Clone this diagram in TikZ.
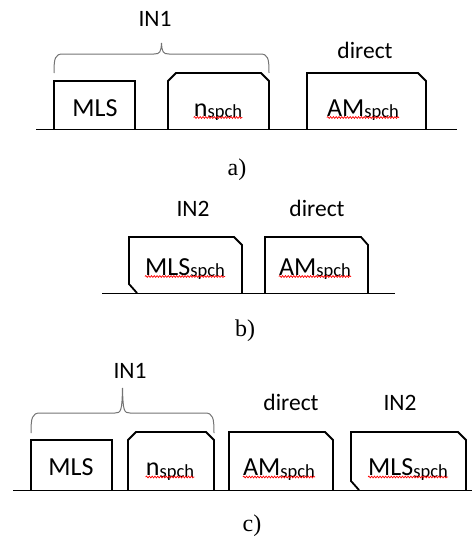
\documentclass[tikz,border=0pt]{standalone}
\usepackage{fontspec}
\setmainfont{Carlito}
\newfontfamily\labfont{Liberation Serif}
\usetikzlibrary{decorations.pathmorphing}
\newcommand{\spch}{\raisebox{-1.5pt}{\fontsize{18.5}{18.5}\selectfont spch}}
\tikzset{
  blk/.style={line width=1.8pt, line join=miter},
  base line/.style={line width=1pt},
  brc/.style={line width=1pt, draw=black!55},
  txt/.style={anchor=base, inner sep=0pt, font=\fontsize{26}{26}\selectfont},
  hdr/.style={anchor=base, inner sep=0pt, font=\fontsize{23.5}{23.5}\selectfont},
  lab/.style={anchor=base, inner sep=0pt, font=\labfont\fontsize{24}{24}\selectfont},
  wavy/.style={draw=red, line width=0.7pt, decorate, decoration={snake, amplitude=0.9pt, segment length=2.8pt}}
}
\begin{document}
\begin{tikzpicture}[x=1pt,y=-1pt]
\useasboundingbox (0,0) rectangle (472,538);
% ---------- panel a ----------
\draw[base line] (36,129) -- (457,129);
\draw[blk] (54,129) -- (54,81) -- (135,81) -- (135,129);
\draw[blk] (168,129) -- (168,81) -- (176,73) -- (261,73) -- (269,81) -- (269,129);
\draw[blk] (307,129) -- (307,73) -- (418,73) -- (426,81) -- (426,129);
\draw[brc] (54,73) .. controls (54,58) and (55,54) .. (63,54) -- (154,54)
  .. controls (160,54) and (161,52) .. (161.5,43)
  .. controls (162,52) and (163,54) .. (169,54) -- (260,54)
  .. controls (268,54) and (269,58) .. (269,73);
\node[hdr] (a-in1) at (155,27) {IN1};
\node[hdr] (a-dir) at (365,58) {direct};
\node[txt] (a-mls) at (95,116) {MLS};
\node[txt] (a-n) at (218,116) {n\spch};
\node[txt] (a-am) at (363,116) {AM\spch};
\draw[wavy] ([yshift=-1.5pt]a-n.base west) -- ([yshift=-1.5pt]a-n.base east);
\draw[wavy] ([yshift=-1.5pt]a-am.base west) -- ([yshift=-1.5pt]a-am.base east);
\node[lab] (a-lab) at (237,175) {a)};
% ---------- panel b ----------
\draw[base line] (102,293) -- (395,293);
\draw[blk] (137,293) -- (129,284) -- (129,237) -- (234,237) -- (242,245) -- (242,293);
\draw[blk] (265,293) -- (265,237) -- (361,237) -- (368,245) -- (368,293);
\node[hdr] (b-in2) at (193,216) {IN2};
\node[hdr] (b-dir) at (317,216) {direct};
\node[txt] (b-mls) at (185,275) {MLS\spch};
\node[txt] (b-am) at (315,275) {AM\spch};
\draw[wavy] ([yshift=-1.5pt]b-mls.base west) -- ([yshift=-1.5pt]b-mls.base east);
\draw[wavy] ([yshift=-1.5pt]b-am.base west) -- ([yshift=-1.5pt]b-am.base east);
\node[lab] (b-lab) at (245,336) {b)};
% ---------- panel c ----------
\draw[base line] (13,490) -- (472,490);
\draw[blk] (31,490) -- (31,440) -- (112,440) -- (112,490);
\draw[blk] (128,490) -- (128,440) -- (136,432) -- (206,432) -- (214,440) -- (214,490);
\draw[blk] (229,490) -- (229,432) -- (325,432) -- (333,440) -- (333,490);
\draw[blk] (359,490) -- (351,481) -- (351,432) -- (458,432) -- (466,440) -- (466,490);
\draw[brc] (31,433) .. controls (31,418) and (32,413) .. (40,413) -- (115,413)
  .. controls (121,413) and (122,411) .. (122.5,388)
  .. controls (123,411) and (124,413) .. (130,413) -- (205,413)
  .. controls (213,413) and (214,418) .. (214,433);
\node[hdr] (c-in1) at (130,378) {IN1};
\node[hdr] (c-dir) at (291,410) {direct};
\node[hdr] (c-in2) at (400,410) {IN2};
\node[txt] (c-mls) at (71,475.5) {MLS};
\node[txt] (c-n) at (170,475.5) {n\spch};
\node[txt] (c-am) at (279,475.5) {AM\spch};
\node[txt] (c-mls2) at (408,475.5) {MLS\spch};
\draw[wavy] ([yshift=-1.5pt]c-n.base west) -- ([yshift=-1.5pt]c-n.base east);
\draw[wavy] ([yshift=-1.5pt]c-am.base west) -- ([yshift=-1.5pt]c-am.base east);
\draw[wavy] ([yshift=-1.5pt]c-mls2.base west) -- ([yshift=-1.5pt]c-mls2.base east);
\node[lab] (c-lab) at (252,531) {c)};
\end{tikzpicture}
\end{document}
